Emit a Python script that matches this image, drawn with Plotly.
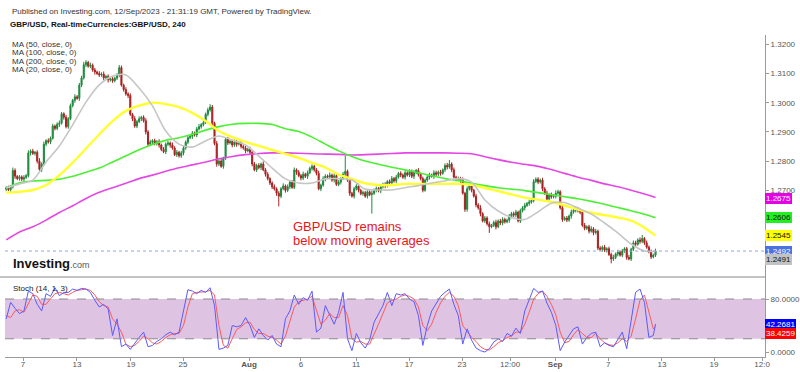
import plotly.graph_objects as go

# ---------------- DATA (prices in pips above 1.0000, i.e. 2708 -> 1.2708) ----------------
first_open_pips = 2704
close_pips = [
    2708, 2702, 2712, 2768, 2748, 2740, 2746, 2738, 2744, 2750,
    2828, 2834, 2826, 2830, 2800, 2772, 2790, 2858, 2870, 2866,
    2878, 2920, 2912, 2926, 2930, 2962, 2950, 2918, 2945, 2990,
    3008, 3020, 3015, 3060, 3085, 3130, 3138, 3125, 3128, 3112,
    3105, 3100, 3095, 3098, 3085, 3090, 3078, 3082, 3075, 3084,
    3095, 3120, 3060, 3045, 3030, 3025, 2960, 2945, 2920, 2935,
    2945, 2950, 2938, 2900, 2858, 2865, 2870, 2860, 2866, 2855,
    2840, 2832, 2858, 2862, 2855, 2845, 2822, 2830, 2818, 2828,
    2845, 2865, 2880, 2885, 2895, 2890, 2910, 2918, 2925, 2932,
    2960, 2975, 2985, 2930, 2860, 2790, 2800, 2782, 2810, 2875,
    2862, 2868, 2855, 2865, 2858, 2862, 2850, 2845, 2835, 2840,
    2830, 2790, 2770, 2785, 2778, 2790, 2770, 2755, 2740, 2725,
    2712, 2705, 2690, 2680, 2705, 2715, 2700, 2712, 2728, 2710,
    2770, 2762, 2750, 2742, 2755, 2748, 2760, 2775, 2782, 2770,
    2758, 2705, 2718, 2740, 2748, 2745, 2752, 2735, 2750, 2720,
    2728, 2740, 2755, 2765, 2735, 2690, 2680, 2705, 2715, 2700,
    2688, 2692, 2680, 2695, 2685, 2690, 2700, 2706, 2698, 2712,
    2720, 2715, 2730, 2725, 2740, 2732, 2745, 2758, 2752, 2745,
    2760, 2752, 2765, 2748, 2760, 2768, 2755, 2740, 2700, 2735,
    2745, 2752, 2748, 2760, 2755, 2762, 2758, 2770, 2785, 2780,
    2790, 2770, 2745, 2738, 2740, 2735, 2690, 2635, 2705, 2715,
    2700, 2680, 2650, 2640, 2620, 2595, 2605, 2585, 2575, 2580,
    2590, 2575, 2595, 2588, 2600, 2592, 2598, 2610, 2620, 2615,
    2625, 2595, 2630, 2640, 2648, 2655, 2660, 2665, 2730, 2738,
    2728, 2735, 2705, 2690, 2670, 2685, 2678, 2680, 2690, 2695,
    2640, 2600, 2605, 2598, 2612, 2625, 2632, 2638, 2630, 2625,
    2580, 2570, 2575, 2560, 2568, 2555, 2560, 2502, 2498, 2505,
    2495, 2500, 2480, 2465, 2470, 2482, 2488, 2478, 2492, 2500,
    2470, 2465, 2498, 2520, 2515, 2530, 2525, 2535, 2520, 2505,
    2490, 2472, 2478, 2492,
]
upper_wick_pips = [
    6, 8, 5, 10, 7, 4, 6, 5, 8, 6,
    9, 6, 8, 5, 7, 10, 6, 9, 5, 8,
    6, 8, 5, 7, 9, 6, 5, 8, 6, 7,
    5, 9, 6, 8, 7, 10, 8, 5, 9, 6,
    7, 5, 8, 6, 9, 5, 7, 6, 8, 5,
    6, 9, 7, 5, 8, 6, 7, 5, 9, 6,
    8, 5, 7, 9, 6, 8, 5, 7, 6, 9,
    5, 8, 6, 7, 5, 9, 6, 8, 5, 7,
    7, 6, 9, 5, 8, 6, 7, 9, 5, 8,
    6, 8, 10, 7, 5, 9, 6, 8, 5, 7,
    8, 6, 5, 9, 7, 6, 8, 5, 7, 6,
    9, 5, 7, 6, 8, 5, 9, 6, 7, 5,
    6, 8, 5, 7, 6, 9, 5, 8, 6, 7,
    8, 5, 7, 6, 9, 5, 8, 6, 7, 5,
    6, 9, 5, 8, 7, 6, 9, 5, 8, 6,
    7, 5, 8, 53, 6, 9, 5, 7, 6, 8,
    5, 7, 6, 8, 5, 9, 6, 7, 5, 8,
    6, 8, 5, 7, 9, 6, 8, 5, 7, 6,
    8, 5, 7, 6, 9, 5, 8, 6, 7, 5,
    6, 8, 5, 9, 7, 6, 8, 5, 7, 9,
    14, 6, 8, 5, 7, 6, 9, 5, 8, 6,
    7, 5, 8, 6, 9, 5, 7, 6, 8, 5,
    6, 9, 5, 7, 8, 6, 5, 9, 6, 7,
    8, 5, 7, 6, 9, 5, 8, 6, 8, 6,
    7, 5, 8, 6, 9, 5, 7, 6, 10, 7,
    5, 8, 6, 7, 5, 9, 6, 8, 5, 7,
    6, 8, 5, 7, 9, 6, 8, 5, 7, 6,
    8, 5, 7, 6, 9, 5, 8, 6, 7, 5,
    6, 9, 5, 8, 7, 6, 9, 12, 5, 8,
    6, 7, 5, 8,
]
lower_wick_pips = [
    7, 5, 8, 6, 9, 5, 7, 6, 8, 5,
    6, 9, 5, 7, 8, 6, 9, 5, 7, 6,
    8, 5, 7, 6, 9, 5, 8, 6, 7, 5,
    6, 8, 5, 9, 7, 6, 8, 5, 7, 6,
    9, 5, 7, 6, 8, 5, 9, 6, 7, 5,
    6, 8, 5, 7, 6, 9, 5, 8, 6, 7,
    5, 8, 6, 9, 7, 5, 8, 6, 7, 9,
    6, 5, 8, 7, 9, 6, 5, 8, 6, 7,
    8, 6, 7, 5, 9, 6, 8, 5, 7, 6,
    5, 7, 6, 8, 6, 9, 7, 5, 8, 6,
    7, 5, 8, 6, 9, 5, 7, 6, 8, 5,
    6, 8, 5, 7, 6, 9, 5, 8, 6, 7,
    8, 6, 9, 35, 7, 5, 8, 6, 7, 5,
    6, 9, 5, 8, 7, 6, 9, 5, 8, 6,
    7, 5, 8, 6, 9, 5, 7, 6, 8, 5,
    6, 8, 5, 7, 6, 9, 5, 8, 6, 7,
    5, 7, 6, 8, 5, 65, 6, 7, 5, 8,
    6, 8, 5, 7, 9, 6, 8, 5, 7, 6,
    8, 5, 7, 6, 9, 5, 8, 6, 7, 5,
    6, 8, 5, 9, 7, 6, 8, 5, 7, 9,
    6, 8, 5, 7, 6, 9, 5, 9, 8, 6,
    7, 5, 8, 6, 9, 5, 7, 6, 21, 5,
    6, 9, 5, 7, 8, 6, 5, 9, 6, 7,
    8, 5, 7, 6, 9, 5, 8, 6, 7, 5,
    7, 5, 8, 6, 9, 5, 7, 6, 8, 5,
    6, 8, 5, 7, 6, 9, 5, 8, 6, 7,
    5, 7, 6, 8, 5, 9, 6, 7, 5, 8,
    6, 8, 5, 15, 7, 6, 8, 5, 7, 6,
    8, 5, 7, 6, 9, 5, 8, 6, 7, 5,
    6, 7, 5, 6,
]

# moving averages at every 6th candle (+ last candle)
ma_index = list(range(0, 289, 6)) + [293]
ma50_pips = [2692, 2695, 2701, 2718, 2752, 2795, 2843, 2892, 2937, 2972,
             2990, 3000, 2995, 2985, 2965, 2937, 2903, 2882, 2866, 2852,
             2838, 2825, 2811, 2794, 2778, 2754, 2739, 2724, 2718, 2718,
             2722, 2722, 2722, 2722, 2722, 2719, 2708, 2697, 2686, 2675,
             2668, 2660, 2648, 2634, 2623, 2615, 2607, 2596, 2572, 2545]
ma100_pips = [2708, 2726, 2732, 2734, 2738, 2748, 2762, 2776, 2797, 2818,
              2839, 2857, 2871, 2880, 2892, 2906, 2918, 2926, 2929, 2929,
              2925, 2911, 2901, 2882, 2858, 2835, 2816, 2800, 2789, 2779,
              2770, 2760, 2750, 2740, 2733, 2724, 2716, 2709, 2704, 2699,
              2692, 2685, 2678, 2671, 2662, 2652, 2641, 2630, 2618, 2606]
ma200_pips = [2530, 2557, 2575, 2598, 2624, 2647, 2672, 2693, 2709, 2724,
              2740, 2752, 2765, 2777, 2787, 2797, 2808, 2816, 2822, 2826,
              2828, 2828, 2827, 2825, 2824, 2823, 2821, 2822, 2824, 2826,
              2828, 2828, 2828, 2828, 2827, 2825, 2815, 2805, 2796, 2789,
              2782, 2771, 2758, 2745, 2734, 2722, 2712, 2700, 2687, 2675]
ma20_pips = [2708, 2722, 2735, 2797, 2852, 2924, 3002, 3061, 3091, 3095,
             3050, 2989, 2903, 2858, 2848, 2869, 2886, 2872, 2855, 2817,
             2776, 2739, 2725, 2725, 2739, 2740, 2735, 2704, 2701, 2701,
             2709, 2716, 2725, 2732, 2740, 2728, 2667, 2629, 2607, 2600,
             2626, 2656, 2658, 2639, 2619, 2588, 2554, 2516, 2492, 2491]

# stochastic read at every 2nd candle (+ last candle)
stoch_index = list(range(0, 293, 2)) + [293]
stoch_k = [50, 75, 66, 58, 62, 92, 88, 72, 62, 88,
           84, 97, 85, 90, 90, 95, 93, 96, 95, 90,
           78, 68, 72, 65, 25, 50, 8, 12, 4, 14,
           22, 30, 8, 10, 16, 20, 26, 30, 26, 30,
           62, 94, 92, 88, 93, 90, 97, 70, 4, 6,
           10, 40, 38, 40, 52, 40, 22, 35, 25, 18,
           25, 12, 8, 50, 62, 86, 72, 82, 78, 92,
           30, 36, 70, 55, 42, 60, 90, 20, 2, 28,
           14, 6, 18, 45, 58, 70, 90, 70, 88, 86,
           88, 80, 76, 55, 10, 40, 62, 74, 84, 90,
           95, 72, 55, 12, 35, 18, 6, 2, 0, 5,
           15, 20, 16, 28, 24, 36, 28, 62, 78, 96,
           90, 92, 74, 60, 40, 2, 15, 25, 35, 38,
           12, 22, 28, 30, 8, 14, 10, 8, 20, 30,
           5, 45, 90, 95, 75, 22, 25, 42.2681]
stoch_d = [55, 52, 62, 64, 60, 72, 86, 84, 72, 72,
           80, 88, 90, 88, 86, 90, 93, 94, 95, 93,
           86, 76, 70, 68, 50, 42, 30, 12, 8, 10,
           16, 24, 20, 14, 12, 16, 22, 26, 28, 28,
           40, 68, 88, 90, 90, 91, 93, 86, 40, 10,
           6, 20, 34, 38, 44, 45, 34, 28, 28, 24,
           22, 18, 12, 24, 45, 68, 76, 78, 80, 84,
           62, 42, 48, 58, 52, 52, 70, 55, 20, 15,
           16, 12, 12, 26, 42, 58, 74, 78, 80, 84,
           86, 84, 80, 68, 40, 32, 42, 60, 74, 84,
           90, 84, 70, 40, 30, 22, 16, 8, 4, 3,
           8, 14, 17, 22, 24, 30, 30, 42, 60, 80,
           88, 92, 84, 72, 56, 30, 14, 16, 26, 34,
           28, 22, 22, 28, 20, 14, 11, 10, 14, 20,
           16, 24, 50, 78, 86, 60, 35, 38.4259]

tick_index = [7.6, 31.9, 56.3, 79.8, 109.6, 133.0, 157.9, 181.8, 205.7, 227.4,
              247.7, 271.6, 295.9, 319.4, 341.1]
tick_text = ["7", "13", "19", "25", "<b>Aug</b>", "6", "11", "17", "23", "12:00",
             "<b>Sep</b>", "7", "13", "19", "12:0"]

last_price = 1.2492
last_ma = {"MA200": 1.2675, "MA100": 1.2606, "MA50": 1.2545, "MA20": 1.2491}

# ---------------- derived OHLC ----------------
def p(v):
    return 1 + v / 10000.0

opens_pips = [first_open_pips] + close_pips[:-1]
highs = [p(max(o, c) + u) for o, c, u in zip(opens_pips, close_pips, upper_wick_pips)]
lows = [p(min(o, c) - l) for o, c, l in zip(opens_pips, close_pips, lower_wick_pips)]
opens = [p(o) for o in opens_pips]
closes = [p(c) for c in close_pips]
idx = list(range(len(close_pips)))

# ---------------- layout geometry (pixels) ----------------
W, H = 800, 372
L, R, T, B = 5, 35, 35, 15
plot_w = W - L - R
plot_h = H - T - B
sep_px = 277  # boundary between panels


def px_x(px):
    return (px - L) / plot_w


def px_y(py):
    return (H - B - py) / plot_h


split = px_y(sep_px)
FONT = "Liberation Sans, Arial, sans-serif"

fig = go.Figure()

ma_styles = [
    (ma200_pips, "#e448e4", 1.6),
    (ma100_pips, "#4cf032", 1.6),
    (ma50_pips, "#ffff30", 2.4),
    (ma20_pips, "#c6c6c6", 1.6),
]
for vals, col, w in ma_styles:
    fig.add_trace(go.Scatter(x=ma_index, y=[p(v) for v in vals], mode="lines",
                             line=dict(color=col, width=w, shape="spline", smoothing=0.8),
                             xaxis="x", yaxis="y", hoverinfo="skip", showlegend=False))

fig.add_trace(go.Candlestick(
    x=idx, open=opens, high=highs, low=lows, close=closes,
    increasing=dict(line=dict(color="#1e8a3e", width=1), fillcolor="#1e8a3e"),
    decreasing=dict(line=dict(color="#a82222", width=1), fillcolor="#a82222"),
    whiskerwidth=0, xaxis="x", yaxis="y", showlegend=False))

# stochastic
fig.add_trace(go.Scatter(x=stoch_index, y=stoch_d, mode="lines",
                         line=dict(color="#ff5a5a", width=1),
                         xaxis="x", yaxis="y2", showlegend=False, hoverinfo="skip"))
fig.add_trace(go.Scatter(x=stoch_index, y=stoch_k, mode="lines",
                         line=dict(color="#5a5aff", width=1),
                         xaxis="x", yaxis="y2", showlegend=False, hoverinfo="skip"))

x_lo, x_hi = -0.54, 342.4

shapes = [
    dict(type="rect", xref="x", yref="y2", x0=x_lo, x1=x_hi, y0=20, y1=80,
         fillcolor="#dfc3e3", line=dict(width=0), layer="below"),
    dict(type="line", xref="x", yref="y2", x0=x_lo, x1=x_hi, y0=80, y1=80,
         line=dict(color="#8a8a8a", width=1, dash="dash")),
    dict(type="line", xref="x", yref="y2", x0=x_lo, x1=x_hi, y0=20, y1=20,
         line=dict(color="#8a8a8a", width=1, dash="dash")),
    dict(type="line", xref="x", yref="y", x0=x_lo, x1=x_hi, y0=last_price, y1=last_price,
         line=dict(color="#8fa8e8", width=1, dash="dot")),
    dict(type="line", xref="paper", yref="paper", x0=-L / plot_w, x1=1, y0=split, y1=split,
         line=dict(color="#b0b0b0", width=1.5)),
]

ann = []


def text(px, py, s, size=8, color="#333", anchor="left"):
    ann.append(dict(xref="paper", yref="paper", x=px_x(px), y=px_y(py), text=s,
                    showarrow=False, xanchor=anchor, yanchor="middle",
                    font=dict(family=FONT, size=size, color=color)))


text(10, 11.5, "Published on Investing.com, 12/Sep/2023 - 21:31:19 GMT, Powered by TradingView.", 8, "#333")
text(8, 24, "<b>GBP/USD, Real-timeCurrencies:GBP/USD, 240</b>", 8, "#111")
text(10, 44, "MA (50, close, 0)", 8, "#333")
text(10, 52.5, "MA (100, close, 0)", 8, "#333")
text(10, 61, "MA (200, close, 0)", 8, "#333")
text(10, 69.5, "MA (20, close, 0)", 8, "#333")
text(11, 263, "<b>Investing</b><span style='font-size:9px;color:#555'>.com</span>", 13, "#111")
text(11, 288, "Stoch (14, 1, 3)", 8, "#222")
text(291, 226.5, "GBP/USD remains", 13, "#e8141c")
text(291, 240.5, "below moving averages", 13, "#e8141c")

# right-side value boxes
boxes = [
    (last_ma["MA200"], "1.2675", "#e600e6", "white", "y", -1),
    (last_ma["MA100"], "1.2606", "#22ee22", "#111", "y", 0),
    (last_ma["MA50"], "1.2545", "#ffff00", "#111", "y", 0),
    (last_price, "1.2492", "#4a72e0", "white", "y", 0),
    (last_ma["MA20"], "1.2491", "#c2c2c2", "#111", "y", -8),
    (stoch_k[-1], "42.2681", "#0000ff", "white", "y2", 0),
    (stoch_d[-1], "38.4259", "#ff0000", "white", "y2", -7),
]
for val, s, bg, fc, yr, ys in boxes:
    ann.append(dict(xref="paper", yref=yr, x=1.0, y=val, text=s, showarrow=False,
                    xanchor="left", yanchor="middle", yshift=ys, bgcolor=bg,
                    borderpad=1, borderwidth=0, font=dict(family=FONT, size=8, color=fc)))

main_ticks = [1.27, 1.28, 1.29, 1.30, 1.31, 1.32]

fig.update_layout(
    width=W, height=H, margin=dict(l=L, r=R, t=T, b=B, autoexpand=False),
    paper_bgcolor="white", plot_bgcolor="white",
    font=dict(family=FONT, size=8, color="#555"),
    showlegend=False, shapes=shapes, annotations=ann,
    xaxis=dict(range=[x_lo, x_hi], anchor="y2", tickvals=tick_index, ticktext=tick_text,
               showgrid=False, zeroline=False, showline=True, linecolor="#9a9a9a", linewidth=1,
               ticks="outside", ticklen=3, tickcolor="#9a9a9a", ticklabelstandoff=-4,
               tickfont=dict(family=FONT, size=8, color="#555"),
               rangeslider=dict(visible=False), fixedrange=True, automargin=False),
    yaxis=dict(domain=[split, 1], range=[1.24031, 1.32318], side="right", anchor="x",
               tickvals=main_ticks, ticktext=["%.4f" % v for v in main_ticks],
               showgrid=False, zeroline=False, showline=True, linecolor="#9a9a9a",
               ticks="outside", ticklen=3, tickcolor="#9a9a9a", automargin=False,
               tickfont=dict(family=FONT, size=8, color="#555")),
    yaxis2=dict(domain=[0, split], range=[-7.5, 113.2], side="right", anchor="x",
                tickvals=[0, 80], ticktext=["0.0000", "80.0000"],
                showgrid=False, zeroline=False, showline=True, linecolor="#9a9a9a",
                ticks="outside", ticklen=3, tickcolor="#9a9a9a", automargin=False,
                tickfont=dict(family=FONT, size=8, color="#555")),
)

fig.write_html("out.html", config={"displayModeBar": False},
               post_script="document.body.style.margin='0px';")
